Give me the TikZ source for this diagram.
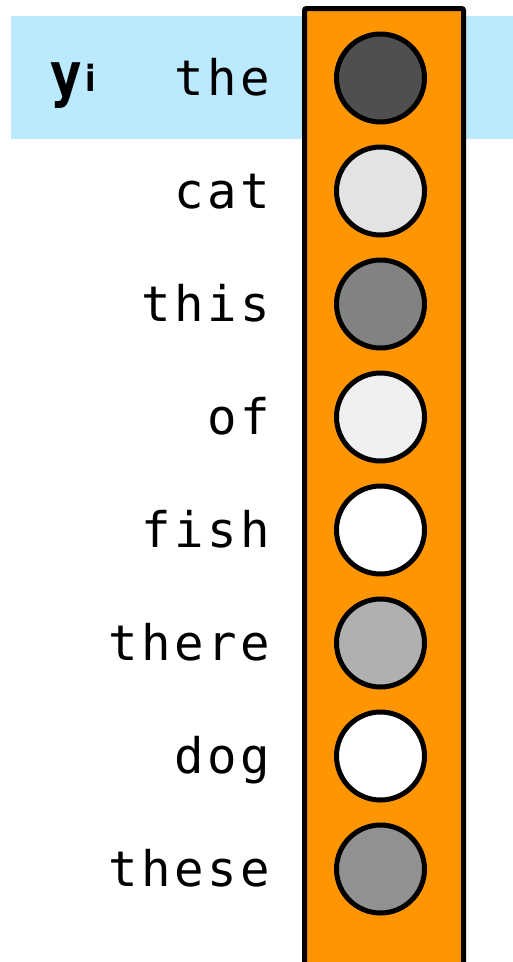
\documentclass[tikz,border=0pt]{standalone}
\usepackage{fontspec}
\newfontfamily\monofont[LetterSpace=7]{DejaVu Sans Mono}
\newfontfamily\ysans{DejaVu Sans}
\definecolor{bandblue}{HTML}{BBE9FD}
\definecolor{vecorange}{HTML}{FF9500}
\begin{document}
\begin{tikzpicture}[x=1pt,y=-1pt,
  cell/.style={circle,draw=black,line width=5pt,minimum size=88pt,inner sep=0pt},
  word/.style={anchor=base east,font=\monofont\fontsize{49}{49}\selectfont,inner sep=0pt}]
\useasboundingbox (0,0) rectangle (513,962);
\fill[bandblue] (11,16) rectangle (513,139);
\begin{scope}
\clip (0,0) rectangle (513,962);
\draw[fill=vecorange,line width=5pt,rounded corners=2pt] (304.5,8.5) rectangle (463.5,990);
\end{scope}
\node[inner sep=0pt,anchor=base west,font=\ysans\bfseries] (yi) at (50,95) {\fontsize{60}{60}\selectfont\scalebox{0.8}[1.0]{y}\hspace{4pt}\fontsize{36}{36}\selectfont\raisebox{4pt}{\scalebox{0.85}[1]{i}}};
\foreach \n/\w/\g [count=\k from 0] in {the/the/31,cat/cat/89,this/this/51,of/of/94,fish/fish/100,there/there/69,dog/dog/100,these/these/57}{
  \node[cell,fill=black!\the\numexpr100-\g\relax!white] (c\n) at (380.5,78+113*\k) {};
  \node[word] (w\n) at (270,95+113*\k) {\w};
}
\end{tikzpicture}
\end{document}
